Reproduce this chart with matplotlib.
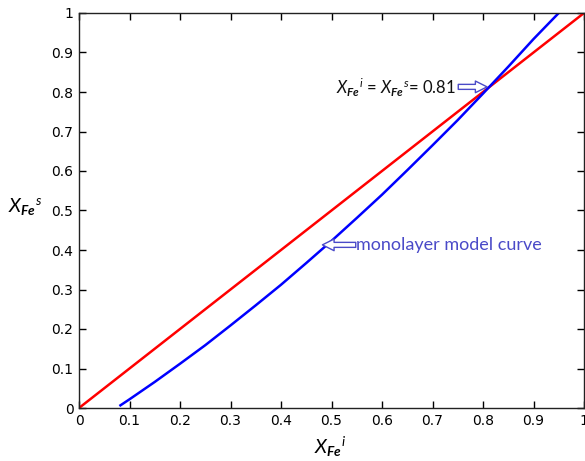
import matplotlib
matplotlib.use("Agg")
import matplotlib.pyplot as plt

# Data
ref_x = [0.0, 1.0]
ref_y = [0.0, 1.0]
model_x = [0.08, 0.10, 0.15, 0.20, 0.25, 0.30, 0.35, 0.40, 0.45, 0.50, 0.55,
           0.60, 0.65, 0.70, 0.75, 0.80, 0.85, 0.90, 0.95]
model_y = [0.005, 0.022, 0.066, 0.112, 0.159, 0.209, 0.260, 0.312, 0.367, 0.423, 0.481,
           0.540, 0.602, 0.665, 0.729, 0.796, 0.864, 0.934, 1.0]
ticks = [0, 0.1, 0.2, 0.3, 0.4, 0.5, 0.6, 0.7, 0.8, 0.9, 1]
tick_labels = ["0", "0.1", "0.2", "0.3", "0.4", "0.5", "0.6", "0.7", "0.8", "0.9", "1"]

plt.rcParams['mathtext.fontset'] = 'custom'
plt.rcParams['mathtext.rm'] = 'Lato'
plt.rcParams['mathtext.it'] = 'Lato:italic'
plt.rcParams['mathtext.bf'] = 'Lato:italic:bold'

fig = plt.figure(figsize=(5.85, 4.61), dpi=100)
ax = fig.add_axes([79/585, 53/461, 505/585, 395/461])

ax.plot(ref_x, ref_y, color='#ff0000', lw=1.8, solid_capstyle='butt')
ax.plot(model_x, model_y, color='#0000ff', lw=1.8, solid_capstyle='butt')

ax.set_xlim(0, 1)
ax.set_ylim(0, 1)
ax.set_xticks(ticks)
ax.set_xticklabels(tick_labels)
ax.set_yticks(ticks)
ax.set_yticklabels(tick_labels)
ax.tick_params(direction='in', top=True, right=True, length=5, width=1,
               labelsize=10, pad=4)
for s in ax.spines.values():
    s.set_linewidth(1.0)
    s.set_color('#222222')

ax.set_xlabel(r'$X_{\mathbf{Fe}}{}^{i}$', fontsize=14)
ax.xaxis.set_label_coords(0.497, -0.068)
ax.set_ylabel(r'$X_{\mathbf{Fe}}{}^{s}$', fontsize=14, rotation=0, va='center')
ax.yaxis.set_label_coords(-0.107, 0.51)

ann_col = '#4a4ac8'
ax.text(0.508, 0.81, r'$X_{\mathbf{Fe}}{}^{i}$ = $X_{\mathbf{Fe}}{}^{s}$= 0.81',
        fontsize=12, family='Lato', ha='left', va='center', color='#111111')
ax.annotate('', xy=(0.808, 0.813), xytext=(0.751, 0.813),
            arrowprops=dict(arrowstyle='simple,head_length=0.7,head_width=0.7,tail_width=0.3',
                            fc='white', ec=ann_col, lw=1.0, mutation_scale=12,
                            shrinkA=0, shrinkB=0))
ax.text(0.549, 0.413, 'monolayer model curve', fontsize=13, family='Lato',
        ha='left', va='center', color=ann_col)
ax.annotate('', xy=(0.482, 0.413), xytext=(0.548, 0.413),
            arrowprops=dict(arrowstyle='simple,head_length=0.7,head_width=0.7,tail_width=0.3',
                            fc='white', ec=ann_col, lw=1.0, mutation_scale=12,
                            shrinkA=0, shrinkB=0))

fig.savefig('out.png', dpi=100)
